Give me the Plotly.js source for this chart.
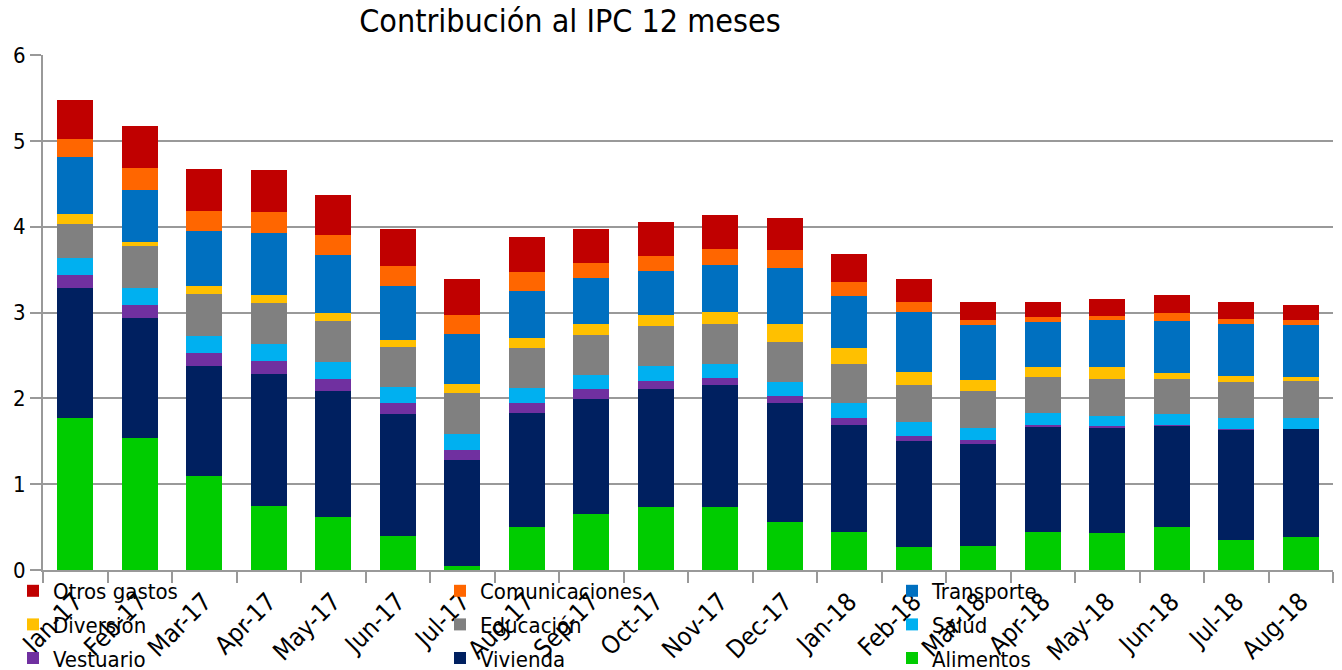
<!DOCTYPE html>
<html>
<head>
<meta charset="utf-8">
<script src="https://cdn.plot.ly/plotly-3.0.1.min.js"></script>
<style>html,body{margin:0;padding:0;background:#fff;}#chart{width:1342px;height:670px;}</style>
</head>
<body>
<div id="chart"></div>
<script>
const months = ["Jan-17","Feb-17","Mar-17","Apr-17","May-17","Jun-17","Jul-17","Aug-17","Sep-17","Oct-17","Nov-17","Dec-17","Jan-18","Feb-18","Mar-18","Apr-18","May-18","Jun-18","Jul-18","Aug-18"];
const alimentos = [1.77,1.54,1.09,0.74,0.62,0.40,0.05,0.50,0.655,0.73,0.73,0.56,0.44,0.27,0.28,0.44,0.43,0.50,0.35,0.38];
const vivienda = [1.51,1.40,1.29,1.54,1.46,1.415,1.235,1.33,1.34,1.38,1.42,1.385,1.25,1.235,1.19,1.225,1.22,1.175,1.285,1.26];
const vestuario = [0.155,0.145,0.145,0.15,0.14,0.13,0.115,0.115,0.11,0.095,0.09,0.08,0.08,0.06,0.04,0.02,0.025,0.012,0.008,0.008];
const salud = [0.205,0.20,0.205,0.20,0.20,0.185,0.19,0.18,0.165,0.17,0.165,0.165,0.17,0.165,0.15,0.14,0.125,0.128,0.125,0.125];
const educacion = [0.39,0.49,0.485,0.477,0.48,0.465,0.47,0.465,0.47,0.47,0.465,0.47,0.46,0.425,0.42,0.42,0.42,0.415,0.42,0.425];
const diversion = [0.113,0.046,0.09,0.10,0.09,0.082,0.104,0.113,0.125,0.128,0.132,0.21,0.19,0.155,0.128,0.124,0.143,0.063,0.069,0.05];
const transporte = [0.667,0.606,0.64,0.722,0.679,0.628,0.59,0.551,0.539,0.512,0.552,0.644,0.601,0.691,0.652,0.52,0.547,0.605,0.614,0.61];
const comunicaciones = [0.209,0.256,0.241,0.244,0.237,0.233,0.217,0.217,0.171,0.179,0.182,0.213,0.16,0.12,0.058,0.054,0.047,0.10,0.058,0.058];
const otros = [0.462,0.492,0.489,0.486,0.466,0.431,0.424,0.411,0.396,0.392,0.395,0.372,0.329,0.271,0.21,0.175,0.206,0.206,0.194,0.17];

const FONT = "DejaVu Sans Condensed, DejaVu Sans, sans-serif";

const series = [
  {name:"Alimentos", y:alimentos, color:"#00CC00", legend:"legend3", rank:3},
  {name:"Vivienda", y:vivienda, color:"#002060", legend:"legend2", rank:3},
  {name:"Vestuario", y:vestuario, color:"#7030A0", legend:"legend", rank:3},
  {name:"Salud", y:salud, color:"#00B0F0", legend:"legend3", rank:2},
  {name:"Educación", y:educacion, color:"#808080", legend:"legend2", rank:2},
  {name:"Diversión", y:diversion, color:"#FFC000", legend:"legend", rank:2},
  {name:"Transporte", y:transporte, color:"#0070C0", legend:"legend3", rank:1},
  {name:"Comunicaciones", y:comunicaciones, color:"#FF6600", legend:"legend2", rank:1},
  {name:"Otros gastos", y:otros, color:"#C00000", legend:"legend", rank:1}
];

const traces = series.map(s => ({
  type:"bar", x:months, y:s.y, name:s.name, legend:s.legend, legendgroup:s.name, legendrank:s.rank,
  marker:{color:s.color, line:{width:0}}
}));

const W = 1342, H = 670;
function leg(px, py){
  return {x:px/W, y:1-py/H, xref:"container", yref:"container", xanchor:"left", yanchor:"top",
    orientation:"v", traceorder:"grouped", tracegroupgap:2, bgcolor:"rgba(0,0,0,0)",
    font:{family:FONT, size:22, color:"#000"}, itemwidth:30};
}

const layout = {
  width:W, height:H,
  margin:{l:43, r:9, t:55, b:100, pad:0, autoexpand:false},
  paper_bgcolor:"#fff", plot_bgcolor:"#fff",
  barmode:"stack", bargap:0.44,
  title:{text:"Contribución al IPC 12 meses", x:570/W, xref:"container", xanchor:"center",
    y:1-21/H, yref:"container", yanchor:"middle", font:{family:FONT, size:32, color:"#000"}},
  xaxis:{type:"category", tickangle:-45, tickson:"boundaries", ticks:"outside", ticklen:11,
    tickwidth:2, tickcolor:"#999", showline:true, linecolor:"#999", linewidth:2, showgrid:false,
    ticklabelstandoff:5,
    tickfont:{family:FONT, size:25, color:"#000"}, automargin:false},
  yaxis:{range:[0,6], dtick:1, ticks:"outside", ticklen:11, tickwidth:2, tickcolor:"#999",
    showline:true, linecolor:"#999", linewidth:2, showgrid:true, gridcolor:"#999", gridwidth:2,
    zeroline:false, tickfont:{family:FONT, size:22, color:"#000"}, automargin:false},
  legend:leg(13, 570),
  legend2:leg(440, 570),
  legend3:leg(892, 570),
  showlegend:true
};

Plotly.newPlot("chart", traces, layout, {displayModeBar:false, staticPlot:true});
</script>
</body>
</html>
